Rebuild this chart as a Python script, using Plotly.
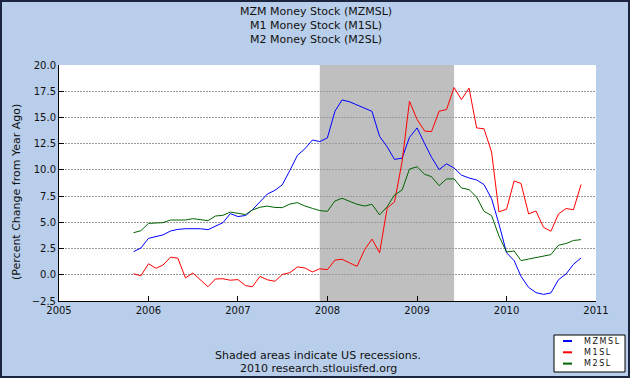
import pandas as pd
import plotly.graph_objects as go

# ---- data (percent change from year ago), monthly Nov 2005 .. Nov 2010 ----
start_month = "2005-11-01"
n_months = 61
mzm = [2.2, 2.55, 3.47, 3.65, 3.8, 4.17, 4.33, 4.39, 4.39, 4.39, 4.3, 4.65, 4.97,
       5.83, 5.55, 5.65, 6.2, 6.95, 7.7, 8.05, 8.58, 9.95, 11.4, 12.0, 12.85, 12.7,
       13.05, 15.6, 16.67, 16.49, 16.17, 15.85, 15.58, 13.2, 12.2, 11.0, 11.12, 13.1,
       14.0, 12.5, 11.2, 10.03, 10.58, 10.18, 9.5, 9.23, 9.04, 8.6, 7.25, 4.85, 2.1,
       1.35, -0.15, -1.2, -1.7, -1.87, -1.73, -0.47, 0.08, 1.0, 1.6]
m1 = [0.1, -0.1, 1.05, 0.62, 0.92, 1.68, 1.58, -0.3, 0.17, -0.48, -1.14, -0.4, -0.38,
      -0.52, -0.46, -1.03, -1.14, -0.15, -0.48, -0.62, 0.03, 0.2, 0.75, 0.65, 0.27,
      0.57, 0.49, 1.4, 1.48, 1.13, 0.8, 2.4, 3.4, 2.1, 6.37, 6.95, 10.8, 16.55, 14.8,
      13.7, 13.65, 15.6, 15.75, 17.85, 16.7, 17.8, 14.0, 13.92, 11.7, 6.0, 6.25, 8.95,
      8.7, 5.8, 6.08, 4.52, 4.15, 5.8, 6.32, 6.2, 8.6]
m2 = [4.01, 4.2, 4.9, 4.97, 4.97, 5.22, 5.22, 5.22, 5.35, 5.25, 5.16, 5.6, 5.67,
      5.98, 5.88, 5.74, 6.17, 6.44, 6.55, 6.42, 6.4, 6.74, 6.88, 6.56, 6.33, 6.12,
      6.05, 7.04, 7.29, 6.98, 6.72, 6.56, 6.72, 5.71, 6.5, 7.61, 8.08, 10.08, 10.3,
      9.58, 9.35, 8.5, 9.13, 9.15, 8.28, 8.12, 7.4, 6.05, 5.65, 3.7, 2.17, 2.27, 1.35,
      1.5, 1.62, 1.76, 1.92, 2.82, 2.98, 3.27, 3.35]
series_names = ["MZMSL", "M1SL", "M2SL"]
series_colors = ["#0000FF", "#FF0000", "#006400"]
recession_start = "2007-12-01"
recession_end = "2009-06-01"
title_lines = ["MZM Money Stock (MZMSL)", "M1 Money Stock (M1SL)", "M2 Money Stock (M2SL)"]
y_ticks = [-2.5, 0.0, 2.5, 5.0, 7.5, 10.0, 12.5, 15.0, 17.5, 20.0]
x_range = ["2005-01-01", "2011-01-01"]

dates = pd.date_range(start_month, periods=n_months, freq="MS")

W, H = 630, 378
L, R, T, B = 59, 34, 65, 77
PW, PH = W - L - R, H - T - B


def px(xp):
    return (xp - L) / PW


def py(yp):
    return (H - B - yp) / PH


FONT = "DejaVu Sans, Verdana, sans-serif"
BG = "#B9CEEA"

fig = go.Figure()
for name, vals, col in zip(series_names, [mzm, m1, m2], series_colors):
    fig.add_trace(go.Scatter(x=dates, y=vals, mode="lines", name=name,
                             line=dict(color=col, width=1), showlegend=False))

shapes = [
    dict(type="rect", xref="x", yref="paper", x0=recession_start, x1=recession_end,
         y0=0, y1=1, fillcolor="#BFBFBF", line=dict(width=0), layer="between"),
    # outer frame
    dict(type="rect", xref="paper", yref="paper", x0=px(1), x1=px(629), y0=py(1), y1=py(377),
         line=dict(color="#1B2540", width=2), fillcolor="rgba(0,0,0,0)"),
    # legend box
    dict(type="rect", xref="paper", yref="paper", x0=px(554), x1=px(625), y0=py(335), y1=py(372),
         line=dict(color="#000000", width=1), fillcolor="#FFFFFF"),
]
annotations = []
for k, (t, yy) in enumerate(zip(title_lines, [12, 25.5, 39])):
    annotations.append(dict(text=t, xref="paper", yref="paper", x=px(316), y=py(yy),
                            showarrow=False, xanchor="center", yanchor="middle",
                            font=dict(family=FONT, size=11, color="#111111")))
for k, (name, col) in enumerate(zip(series_names, series_colors)):
    yy = 341 + 11.3 * k
    shapes.append(dict(type="line", xref="paper", yref="paper", x0=px(563), x1=px(572),
                       y0=py(yy), y1=py(yy), line=dict(color=col, width=2)))
    annotations.append(dict(text="\u2009".join(name), xref="paper", yref="paper",
                            x=px(582), y=py(yy), showarrow=False, xanchor="left",
                            yanchor="middle",
                            font=dict(family=FONT, size=8, color="#111111")))
annotations += [
    dict(text="(Percent Change from Year Ago)", xref="paper", yref="paper", x=px(16), y=py(192),
         textangle=-90, showarrow=False, xanchor="center", yanchor="middle",
         font=dict(family=FONT, size=11, color="#111111")),
    dict(text="Shaded areas indicate US recessions.", xref="paper", yref="paper", x=px(318),
         y=py(355.5), showarrow=False, xanchor="center", yanchor="middle",
         font=dict(family=FONT, size=11, color="#111111")),
    dict(text="2010 research.stlouisfed.org", xref="paper", yref="paper", x=px(318),
         y=py(368.5), showarrow=False, xanchor="center", yanchor="middle",
         font=dict(family=FONT, size=11, color="#111111")),
]

fig.update_layout(
    width=W, height=H, margin=dict(l=L, r=R, t=T, b=B, autoexpand=False),
    paper_bgcolor=BG, plot_bgcolor="#FFFFFF",
    shapes=shapes, annotations=annotations, showlegend=False,
    font=dict(family=FONT, size=10, color="#111111"),
)
fig.update_xaxes(range=x_range, type="date", dtick="M12", tickformat="%Y",
                 showgrid=False, showline=True, linecolor="#000000", linewidth=1,
                 ticks="inside", ticklen=5, tickcolor="#000000",
                 tickfont=dict(family=FONT, size=10, color="#111111"), zeroline=False,
                 fixedrange=True)
fig.update_yaxes(range=[-2.5, 20], tickvals=y_ticks, tickformat=".1f",
                 showgrid=True, gridcolor="#9A9A9A", griddash="2px,1px", gridwidth=1,
                 showline=True, linecolor="#000000", linewidth=1,
                 ticks="inside", ticklen=5, tickcolor="#000000",
                 tickfont=dict(family=FONT, size=10, color="#111111"), zeroline=False,
                 fixedrange=True)

fig.write_html("out.html", config={"displayModeBar": False},
               post_script="document.body.style.margin='0';document.body.style.overflow='hidden';")
